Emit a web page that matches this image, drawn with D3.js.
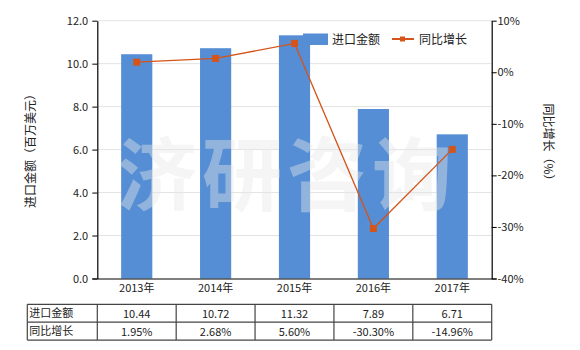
<!DOCTYPE html>
<html>
<head>
<meta charset="utf-8">
<script src="https://cdn.jsdelivr.net/npm/d3@7"></script>
<style>
  body { margin: 0; background: #fff; }
  svg { display: block; font-family: "Noto Sans CJK SC", "Noto Sans", sans-serif; }
</style>
</head>
<body>
<svg id="chart" width="580" height="350"></svg>
<script>
const categories = ["2013年", "2014年", "2015年", "2016年", "2017年"];
const importValues = [10.44, 10.72, 11.32, 7.89, 6.71];
const growthValues = [1.95, 2.68, 5.60, -30.30, -14.96];
const importLabels = ["10.44", "10.72", "11.32", "7.89", "6.71"];
const growthLabels = ["1.95%", "2.68%", "5.60%", "-30.30%", "-14.96%"];
const leftTicks = [0, 2, 4, 6, 8, 10, 12];
const rightTicks = [-40, -30, -20, -10, 0, 10];
const seriesNames = ["进口金额", "同比增长"];

const svg = d3.select("#chart");
const L = 97.3, R = 491.7, T = 20.7, B = 278.5;
const barColor = "#558ed5", lineColor = "#d4541a", textColor = "#222";

const x = d3.scaleBand().domain(categories).range([L, R]).paddingInner(0).paddingOuter(0);
const yL = d3.scaleLinear().domain([0, 12]).range([B, T]);
const yR = d3.scaleLinear().domain([-40, 10]).range([B, T]);

// grid
svg.append("g").selectAll("line").data(leftTicks.filter(d => d > 0)).join("line")
  .attr("x1", L).attr("x2", R).attr("y1", d => yL(d)).attr("y2", d => yL(d))
  .attr("stroke", "#e3e3e3").attr("stroke-width", 1);

// bars
const bw = x.bandwidth() * 0.395;
svg.append("g").selectAll("rect").data(importValues).join("rect")
  .attr("x", (d, i) => x(categories[i]) + x.bandwidth() / 2 - bw / 2)
  .attr("width", bw)
  .attr("y", d => yL(d))
  .attr("height", d => B - yL(d))
  .attr("fill", barColor);

// watermark
const wm = ["济", "研", "咨", "询"];
svg.append("g").selectAll("text").data(wm).join("text")
  .attr("x", (d, i) => 157 + i * 85)
  .attr("y", 204)
  .attr("text-anchor", "middle")
  .attr("font-size", 80)
  .attr("font-weight", "bold")
  .attr("fill", "#e8e8e8")
  .attr("fill-opacity", 0.42)
  .text(d => d);

// axes
const axL = svg.append("g").attr("transform", `translate(${L},0)`)
  .call(d3.axisLeft(yL).tickValues(leftTicks).tickFormat(d3.format(".1f")).tickSize(5).tickSizeOuter(0));
const axR = svg.append("g").attr("transform", `translate(${R},0)`)
  .call(d3.axisRight(yR).tickValues(rightTicks).tickFormat(d => d + "%").tickSize(5).tickSizeOuter(0));
const axB = svg.append("g").attr("transform", `translate(0,${B})`)
  .call(d3.axisBottom(x).tickSize(0).tickSizeOuter(0));
[axL, axR, axB].forEach(a => {
  a.selectAll("path.domain").attr("stroke", "#000").attr("stroke-width", 1.2);
  a.selectAll(".tick line").attr("stroke", "#000");
  a.selectAll("text").attr("fill", textColor).attr("font-size", 11).attr("font-family", "\"Noto Sans CJK SC\", sans-serif");
});
axL.selectAll("text").attr("dx", "-0.1em");
axR.selectAll("text").attr("dx", "-0.2em");
axB.selectAll("text").attr("dy", "0.95em");
axB.select("path.domain").attr("d", `M${L - 5},0.5H${R + 5}`);

// line
const line = d3.line().x((d, i) => x(categories[i]) + x.bandwidth() / 2).y(d => yR(d));
svg.append("path").datum(growthValues).attr("d", line)
  .attr("fill", "none").attr("stroke", lineColor).attr("stroke-width", 1.3);
svg.append("g").selectAll("rect").data(growthValues).join("rect")
  .attr("x", (d, i) => x(categories[i]) + x.bandwidth() / 2 - 3.5)
  .attr("y", d => yR(d) - 3.5)
  .attr("width", 7).attr("height", 7)
  .attr("fill", lineColor);

// axis titles
svg.append("text").attr("transform", `translate(35,148) rotate(-90)`)
  .attr("text-anchor", "middle").attr("font-size", 12).attr("fill", textColor)
  .text("进口金额（百万美元）");
svg.append("text").attr("transform", `translate(544,145) rotate(90)`)
  .attr("text-anchor", "middle").attr("font-size", 12).attr("fill", textColor)
  .text("同比增长（%）");

// legend
const lg = svg.append("g");
lg.append("rect").attr("x", 303).attr("y", 33.5).attr("width", 25).attr("height", 11.5).attr("fill", barColor);
lg.append("text").attr("x", 332).attr("y", 44).attr("font-size", 12).attr("fill", textColor).text(seriesNames[0]);
lg.append("line").attr("x1", 392).attr("x2", 414).attr("y1", 39).attr("y2", 39).attr("stroke", lineColor).attr("stroke-width", 2);
lg.append("rect").attr("x", 400).attr("y", 36.5).attr("width", 5).attr("height", 5).attr("fill", lineColor);
lg.append("text").attr("x", 419).attr("y", 44).attr("font-size", 12).attr("fill", textColor).text(seriesNames[1]);

// table
const tT = 304.3, rowH = 17.9, tL = 27.3;
const tbl = svg.append("g");
const rows = [[seriesNames[0], importLabels], [seriesNames[1], growthLabels]];
const borderColor = "#444";
// horizontal lines
[0, 1, 2].forEach(r => {
  tbl.append("line").attr("x1", tL).attr("x2", R).attr("y1", tT + r * rowH).attr("y2", tT + r * rowH)
    .attr("stroke", borderColor).attr("stroke-width", 1.2);
});
// vertical lines
const vx = [tL, L].concat(categories.map(c => x(c) + x.bandwidth()));
vx.forEach(v => {
  tbl.append("line").attr("x1", v).attr("x2", v).attr("y1", tT).attr("y2", tT + 2 * rowH)
    .attr("stroke", borderColor).attr("stroke-width", 1.2);
});
rows.forEach((row, r) => {
  tbl.append("text").attr("x", tL + 2).attr("y", tT + r * rowH + 13).attr("font-size", 11)
    .attr("fill", textColor).text(row[0]);
  row[1].forEach((v, i) => {
    tbl.append("text").attr("x", x(categories[i]) + x.bandwidth() / 2).attr("y", tT + r * rowH + 13.5)
      .attr("text-anchor", "middle").attr("font-size", 11).attr("fill", textColor).text(v);
  });
});
</script>
</body>
</html>
